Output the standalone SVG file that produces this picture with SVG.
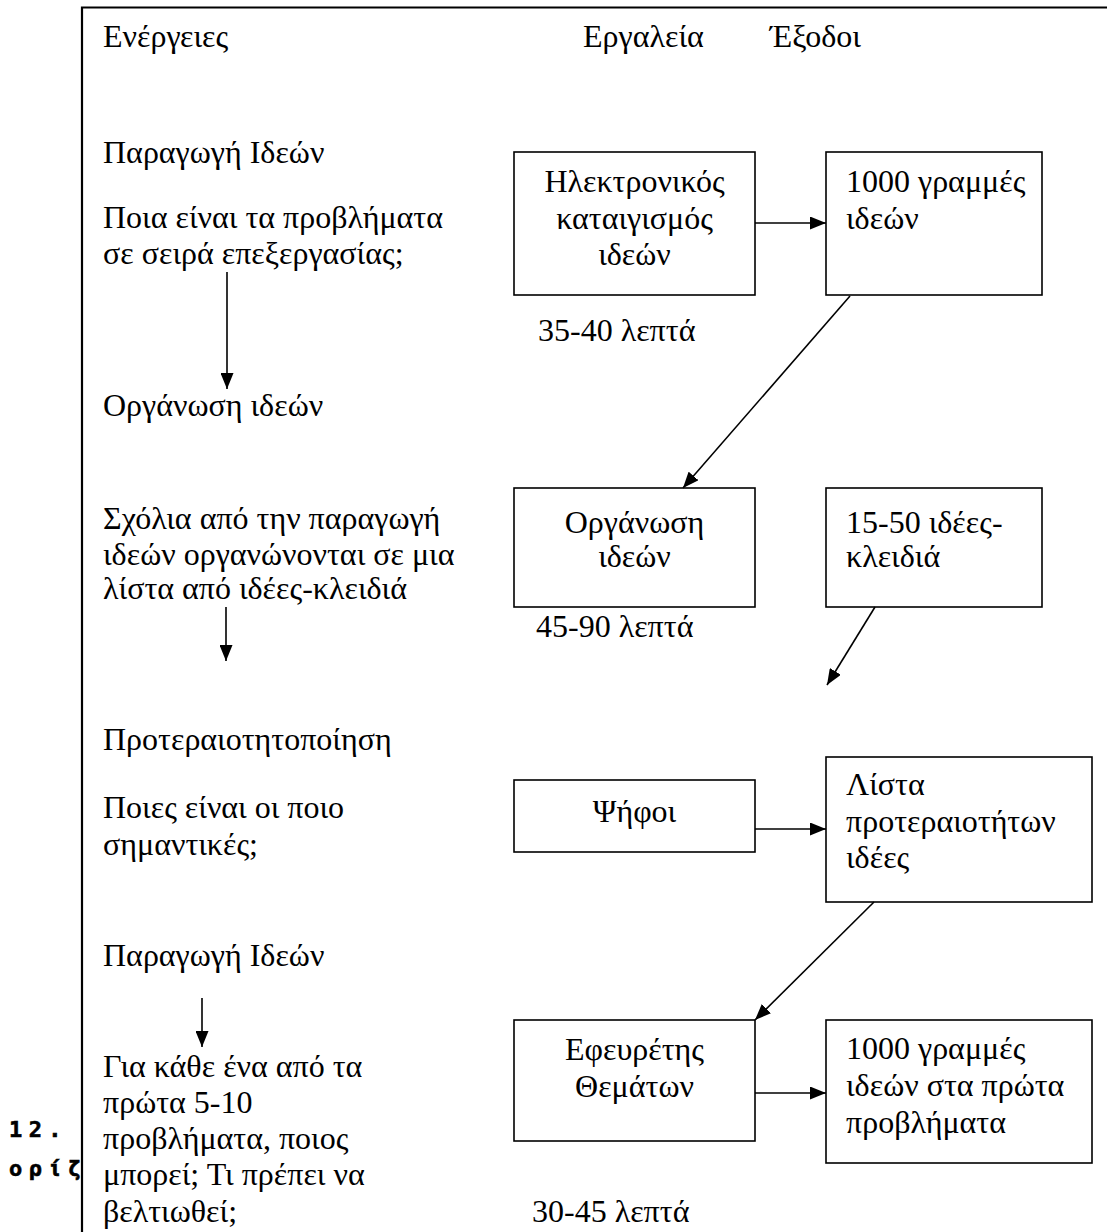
<svg xmlns="http://www.w3.org/2000/svg" width="1107" height="1232" viewBox="0 0 1107 1232">
  <style>
    .t { font-family: "Liberation Serif", "Times New Roman", serif; font-size: 32px; fill: #000; }
    .c { text-anchor: middle; }
    .box { fill: #fff; stroke: #000; stroke-width: 1.6; }
    .frame { fill: none; stroke: #000; stroke-width: 2.2; }
    .mono { font-family: "DejaVu Sans Mono", "Liberation Mono", monospace; font-weight: 700; font-size: 22px; letter-spacing: 6.4px; fill: #000; stroke: #000; stroke-width: 0.6; }
    .link { stroke: #000; stroke-width: 1.6; fill: none; marker-end: url(#head); }
  </style>
  <defs>
    <marker id="head" viewBox="0 0 16 13" refX="16" refY="6.5" markerWidth="16" markerHeight="13" markerUnits="userSpaceOnUse" orient="auto">
      <path d="M0,0 L16,6.5 L0,13 Z" fill="#000"/>
    </marker>
  </defs>

  <rect width="1107" height="1232" fill="#fff"/>

  <!-- text outside the frame -->
  <text class="mono" x="9" y="1137">12.</text>
  <text class="mono" x="9" y="1176">ορίζ</text>

  <!-- outer frame -->
  <path class="frame" d="M82,1240 L82,7.5 L1110,7.5"/>

  <!-- column headings -->
  <g id="headings">
    <text class="t" x="103" y="47">Ενέργειες</text>
    <text class="t" x="583" y="47">Εργαλεία</text>
    <text class="t" x="770" y="47">Έξοδοι</text>
  </g>

  <!-- actions column -->
  <g id="actions">
    <text class="t" x="103" y="163">Παραγωγή Ιδεών</text>
    <text class="t" x="103" y="228">Ποια είναι τα προβλήματα</text>
    <text class="t" x="103" y="264">σε σειρά επεξεργασίας;</text>
    <text class="t" x="103" y="416">Οργάνωση ιδεών</text>
    <text class="t" x="103" y="529">Σχόλια από την παραγωγή</text>
    <text class="t" x="103" y="565">ιδεών οργανώνονται σε μια</text>
    <text class="t" x="103" y="599">λίστα από ιδέες-κλειδιά</text>
    <text class="t" x="103" y="750">Προτεραιοτητοποίηση</text>
    <text class="t" x="103" y="818">Ποιες είναι οι ποιο</text>
    <text class="t" x="103" y="855">σημαντικές;</text>
    <text class="t" x="103" y="966">Παραγωγή Ιδεών</text>
    <text class="t" x="103" y="1077">Για κάθε ένα από τα</text>
    <text class="t" x="103" y="1113">πρώτα 5-10</text>
    <text class="t" x="103" y="1149">προβλήματα, ποιος</text>
    <text class="t" x="103" y="1185">μπορεί; Τι πρέπει να</text>
    <text class="t" x="103" y="1222">βελτιωθεί;</text>
  </g>

  <!-- durations -->
  <g id="durations">
    <text class="t" x="538" y="341">35-40 λεπτά</text>
    <text class="t" x="536" y="637">45-90 λεπτά</text>
    <text class="t" x="532" y="1222">30-45 λεπτά</text>
  </g>

  <!-- tools -->
  <g id="brainstorm">
    <rect class="box" x="514" y="152" width="241" height="143"/>
    <text class="t c" x="634.5" y="192">Ηλεκτρονικός</text>
    <text class="t c" x="634.5" y="229">καταιγισμός</text>
    <text class="t c" x="634.5" y="265">ιδεών</text>
  </g>
  <g id="organise">
    <rect class="box" x="514" y="488" width="241" height="119"/>
    <text class="t c" x="634.5" y="533">Οργάνωση</text>
    <text class="t c" x="634.5" y="567">ιδεών</text>
  </g>
  <g id="votes">
    <rect class="box" x="514" y="780" width="241" height="72"/>
    <text class="t c" x="634.5" y="822">Ψήφοι</text>
  </g>
  <g id="inventor">
    <rect class="box" x="514" y="1020" width="241" height="121"/>
    <text class="t c" x="634.5" y="1060">Εφευρέτης</text>
    <text class="t c" x="634.5" y="1097">Θεμάτων</text>
  </g>

  <!-- outputs -->
  <g id="lines1000">
    <rect class="box" x="826" y="152" width="216" height="143"/>
    <text class="t" x="846" y="192">1000 γραμμές</text>
    <text class="t" x="846" y="229">ιδεών</text>
  </g>
  <g id="keyideas">
    <rect class="box" x="826" y="488" width="216" height="119"/>
    <text class="t" x="846" y="533">15-50 ιδέες-</text>
    <text class="t" x="846" y="567">κλειδιά</text>
  </g>
  <g id="prioritylist">
    <rect class="box" x="826" y="757" width="266" height="145"/>
    <text class="t" x="846" y="795">Λίστα</text>
    <text class="t" x="846" y="832">προτεραιοτήτων</text>
    <text class="t" x="846" y="868">ιδέες</text>
  </g>
  <g id="lines1000top">
    <rect class="box" x="826" y="1020" width="266" height="143"/>
    <text class="t" x="846" y="1059">1000 γραμμές</text>
    <text class="t" x="846" y="1096">ιδεών στα πρώτα</text>
    <text class="t" x="846" y="1133">προβλήματα</text>
  </g>

  <!-- connectors -->
  <g id="connectors">
    <line class="link" x1="227" y1="272" x2="227" y2="389"/>
    <line class="link" x1="226" y1="607" x2="226" y2="661"/>
    <line class="link" x1="202" y1="998" x2="202" y2="1047"/>
    <line class="link" x1="755" y1="223" x2="826" y2="223"/>
    <line class="link" x1="850" y1="296" x2="683" y2="488"/>
    <line class="link" x1="875" y1="607" x2="827" y2="685"/>
    <line class="link" x1="755" y1="829" x2="826" y2="829"/>
    <line class="link" x1="874" y1="902" x2="755" y2="1020"/>
    <line class="link" x1="755" y1="1093" x2="826" y2="1093"/>
  </g>
</svg>
